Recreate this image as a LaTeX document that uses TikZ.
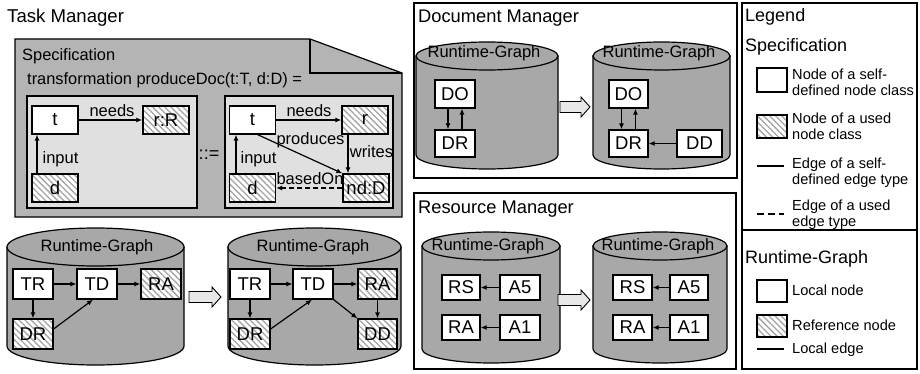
\documentclass[tikz,border=0pt]{standalone}
\usepackage{fontspec}
\setmainfont{Liberation Sans}
\usetikzlibrary{arrows.meta,patterns.meta}

\definecolor{specgray}{HTML}{B4B4B4}
\definecolor{rulegray}{HTML}{E0E0E0}
\definecolor{cylgray}{HTML}{A8A8A8}
\definecolor{arrowgray}{HTML}{E8E8E8}
\definecolor{hatchgray}{HTML}{A4A4A4}

\newcommand\fsz[1]{\fontsize{#1}{#1}\selectfont}

% cylinder: left x, right x, top centre y, bottom centre y, y radius
\newcommand\drum[5]{%
  \pgfmathsetmacro\drumrx{(#2-#1)/2}%
  \pgfmathsetmacro\drumcx{(#1+#2)/2}%
  \filldraw[cyl] (#1,#3) -- (#1,#4) arc[start angle=180,end angle=0,x radius=\drumrx,y radius=#5] -- (#2,#3) -- cycle;
  \filldraw[cyl] (\drumcx,#3) ellipse[x radius=\drumrx,y radius=#5];
}
% hollow block arrow: left x, right x, centre y
\newcommand\fatarrow[3]{%
  \filldraw[bigarr] (#1,#3-5.5) -- (#2-9,#3-5.5) -- (#2-9,#3-10) -- (#2,#3)
    -- (#2-9,#3+10) -- (#2-9,#3+5.5) -- (#1,#3+5.5) -- cycle;
}

\begin{document}
\begin{tikzpicture}[x=1pt,y=-1pt,
  lw/.style={line width=1.2pt},
  frame/.style={draw,lw},
  cyl/.style={lw,fill=cylgray},
  bigarr/.style={line width=0.9pt,fill=arrowgray},
  box/.style={draw,lw,fill=white,inner sep=0pt,font=\fsz{18.5}},
  hatch/.style={draw,lw,inner sep=0pt,font=\fsz{18.5},preaction={fill=white},
    pattern={Lines[angle=-45,distance=4.3pt,line width=1.3pt]},pattern color=hatchgray},
  conn/.style={lw,-{Latex[length=6pt,width=5pt]}},
  title/.style={anchor=base west,inner sep=0pt,font=\fsz{18}},
  lab/.style={anchor=base,inner sep=0pt,font=\fsz{16.5}},
  leg/.style={anchor=base west,inner sep=0pt,font=\fsz{14.6}},
]
\useasboundingbox (0,0) rectangle (920,374);

%% ---------------- Task Manager ----------------
\node[title,font=\fsz{18.6}] (tmtitle) at (7,22.5) {Task Manager};

% specification sheet with folded corner
\filldraw[lw,fill=specgray] (15,39) -- (310,39) -- (402,73) -- (402,217) -- (15,217) -- cycle;
\draw[lw] (310,39) -- (310,73) -- (402,73);
\node[anchor=base west,inner sep=0pt,font=\fsz{16.4}] (spectitle) at (22,61) {Specification};
\node[anchor=base west,inner sep=0pt,font=\fsz{16.4}] (spechead) at (27,85) {transformation produceDoc(t:T, d:D) =};

\filldraw[lw,fill=rulegray] (27,96) rectangle (197,208);
\filldraw[lw,fill=rulegray] (225,96) rectangle (393,208);
\node[font=\fsz{18},inner sep=0pt] (defsym) at (209,155) {::=};

% left-hand side
\node[box,minimum width=46pt,minimum height=28pt] (tL) at (55,120) {t};
\node[hatch,minimum width=46pt,minimum height=28pt] (rL) at (166,120) {r:R};
\node[hatch,minimum width=46pt,minimum height=28pt] (dL) at (55,188) {d};
\draw[conn] (tL) -- (rL);
\node[lab] (needsL) at (112,117) {needs};
\draw[conn] ([xshift=-18pt]dL.north) -- ([xshift=-18pt]tL.south);
\node[lab] (inputL) at (60.5,164) {input};

% right-hand side
\node[box,minimum width=46pt,minimum height=28pt] (tR) at (252.5,120) {t};
\node[hatch,minimum width=46pt,minimum height=28pt] (rR) at (365,120) {r};
\node[hatch,minimum width=46pt,minimum height=28pt] (dR) at (252.5,188) {d};
\node[hatch,minimum width=46pt,minimum height=28pt] (ndR) at (366,188) {nd:D};
\draw[conn] (tR) -- (rR);
\node[lab] (needsR) at (309,117) {needs};
\draw[conn] ([xshift=-16.5pt]dR.north) -- ([xshift=-16.5pt]tR.south);
\node[lab] (inputR) at (258.5,164) {input};
\draw[conn] ([xshift=5pt]tR.south) -- (ndR.north west);
\node[lab] (producesR) at (310.5,145) {produces};
\draw[conn] ([xshift=-17pt]rR.south) -- ([xshift=-17pt]rR.south |- ndR.north);
\node[lab] (writesR) at (371.5,158) {writes};
\draw[conn,dashed,dash pattern=on 5pt off 3pt] (ndR.west) -- (dR.east);
\node[lab] (basedOnR) at (310,185) {basedOn};

% runtime graphs
\drum{7}{184}{247}{346}{19}
\node[lab] (rgT1) at (97,251.5) {Runtime-Graph};
\node[box,minimum width=40pt,minimum height=30pt] (TR1) at (33,284) {TR};
\node[box,minimum width=40pt,minimum height=30pt] (TD1) at (97,284) {TD};
\node[hatch,minimum width=40pt,minimum height=30pt] (RA1) at (161,284) {RA};
\node[hatch,minimum width=40pt,minimum height=30pt] (DR1) at (33,334) {DR};
\draw[conn] (TR1) -- (TD1);
\draw[conn] (TD1) -- (RA1);
\draw[conn] (TR1) -- (DR1);
\draw[conn] ([yshift=5pt]DR1.east) -- ([xshift=-4pt]TD1.south);

\fatarrow{189}{221}{297}

\drum{228}{401}{247}{346}{19}
\node[lab] (rgT2) at (313,251.5) {Runtime-Graph};
\node[box,minimum width=40pt,minimum height=30pt] (TR2) at (250,284) {TR};
\node[box,minimum width=40pt,minimum height=30pt] (TD2) at (313,284) {TD};
\node[hatch,minimum width=39pt,minimum height=30pt] (RA2) at (377.5,284) {RA};
\node[hatch,minimum width=40pt,minimum height=30pt] (DR2) at (250,334) {DR};
\node[hatch,minimum width=39pt,minimum height=30pt] (DD2) at (377.5,334) {DD};
\draw[conn] (TR2) -- (TD2);
\draw[conn] (TD2) -- (RA2);
\draw[conn] (TR2) -- (DR2);
\draw[conn] ([yshift=5pt]DR2.east) -- ([xshift=-1pt]TD2.south);
\draw[conn] (TD2.south east) -- (DD2.north west);
\draw[conn] (RA2) -- (DD2);

%% ---------------- Document Manager ----------------
\draw[frame] (414,3) rectangle (737,178);
\node[title,font=\fsz{18.3}] (dmtitle) at (418,23) {Document Manager};

\drum{416}{558}{56}{155}{14}
\node[lab] (rgD1) at (484,58) {Runtime-Graph};
\node[box,minimum width=40pt,minimum height=28pt] (DO1) at (455,94) {DO};
\node[box,minimum width=40pt,minimum height=27pt] (DRd1) at (455,143.5) {DR};
\draw[conn] ([xshift=-7pt]DO1.south) -- ([xshift=-7pt]DRd1.north);
\draw[conn] ([xshift=7pt]DRd1.north) -- ([xshift=7pt]DO1.south);

\fatarrow{560}{590}{107}

\drum{593}{730}{56}{155}{14}
\node[lab] (rgD2) at (659,58) {Runtime-Graph};
\node[box,minimum width=39pt,minimum height=28pt] (DO2) at (628.5,94) {DO};
\node[box,minimum width=39pt,minimum height=27pt] (DRd2) at (628.5,143.5) {DR};
\node[box,minimum width=45pt,minimum height=27pt] (DDd2) at (699.5,143.5) {DD};
\draw[conn] ([xshift=-7pt]DO2.south) -- ([xshift=-7pt]DRd2.north);
\draw[conn] ([xshift=7pt]DRd2.north) -- ([xshift=7pt]DO2.south);
\draw[conn] (DDd2) -- (DRd2);

%% ---------------- Resource Manager ----------------
\draw[frame] (414,193) rectangle (736,369);
\node[title,font=\fsz{18.3}] (rmtitle) at (418,213) {Resource Manager};

\drum{422}{560}{246}{349}{14}
\node[lab] (rgR1) at (488,250) {Runtime-Graph};
\node[box,minimum width=38pt,minimum height=25pt] (RS1) at (461,287.5) {RS};
\node[box,minimum width=40pt,minimum height=25pt] (A51) at (520,287.5) {A5};
\node[box,minimum width=38pt,minimum height=25pt] (RAr1) at (461,327.5) {RA};
\node[box,minimum width=40pt,minimum height=25pt] (A11) at (520,327.5) {A1};
\draw[conn] (A51) -- (RS1);
\draw[conn] (A11) -- (RAr1);

\fatarrow{558}{590}{300}

\drum{593}{727}{246}{349}{14}
\node[lab] (rgR2) at (658,250) {Runtime-Graph};
\node[box,minimum width=39pt,minimum height=25pt] (RS2) at (632.5,287.5) {RS};
\node[box,minimum width=38pt,minimum height=25pt] (A52) at (689,287.5) {A5};
\node[box,minimum width=39pt,minimum height=25pt] (RAr2) at (632.5,327.5) {RA};
\node[box,minimum width=38pt,minimum height=25pt] (A12) at (689,327.5) {A1};
\draw[conn] (A52) -- (RS2);
\draw[conn] (A12) -- (RAr2);

%% ---------------- Legend ----------------
\draw[frame] (742,3) rectangle (917,369);
\draw[lw] (742,230) -- (917,230);
\node[title] (legtitle) at (745,22) {Legend};
\node[title] (legspec) at (745,52) {Specification};

\node[box,minimum width=30pt,minimum height=24pt] (legself) at (772,80) {};
\node[leg] (legselfA) at (792,80) {Node of a self-};
\node[leg] (legselfB) at (792,96) {defined node class};

\node[hatch,minimum width=30pt,minimum height=23pt] (legused) at (772,126.5) {};
\node[leg] (legusedA) at (792,124) {Node of a used};
\node[leg] (legusedB) at (792,139.5) {node class};

\coordinate (e1a) at (757,166); \coordinate (e1b) at (784,166);
\draw[lw] (e1a) -- (e1b);
\node[leg] (legedgeA) at (792,168) {Edge of a self-};
\node[leg] (legedgeB) at (792,184) {defined edge type};

\coordinate (e2a) at (757,214); \coordinate (e2b) at (784,214);
\draw[lw,dash pattern=on 7pt off 4pt] (e2a) -- (e2b);
\node[leg] (legusededgeA) at (792,211) {Edge of a used};
\node[leg] (legusededgeB) at (792,226) {edge type};

\node[title] (legrg) at (745,263) {Runtime-Graph};
\node[box,minimum width=30pt,minimum height=22pt] (leglocal) at (772,291) {};
\node[leg] (leglocaltxt) at (792,295.5) {Local node};
\node[hatch,minimum width=30pt,minimum height=22pt] (legref) at (772,326) {};
\node[leg] (legreftxt) at (792,330.5) {Reference node};
\coordinate (e3a) at (757,349); \coordinate (e3b) at (784,349);
\draw[lw] (e3a) -- (e3b);
\node[leg] (legedge3txt) at (792,353.5) {Local edge};
\end{tikzpicture}
\end{document}
